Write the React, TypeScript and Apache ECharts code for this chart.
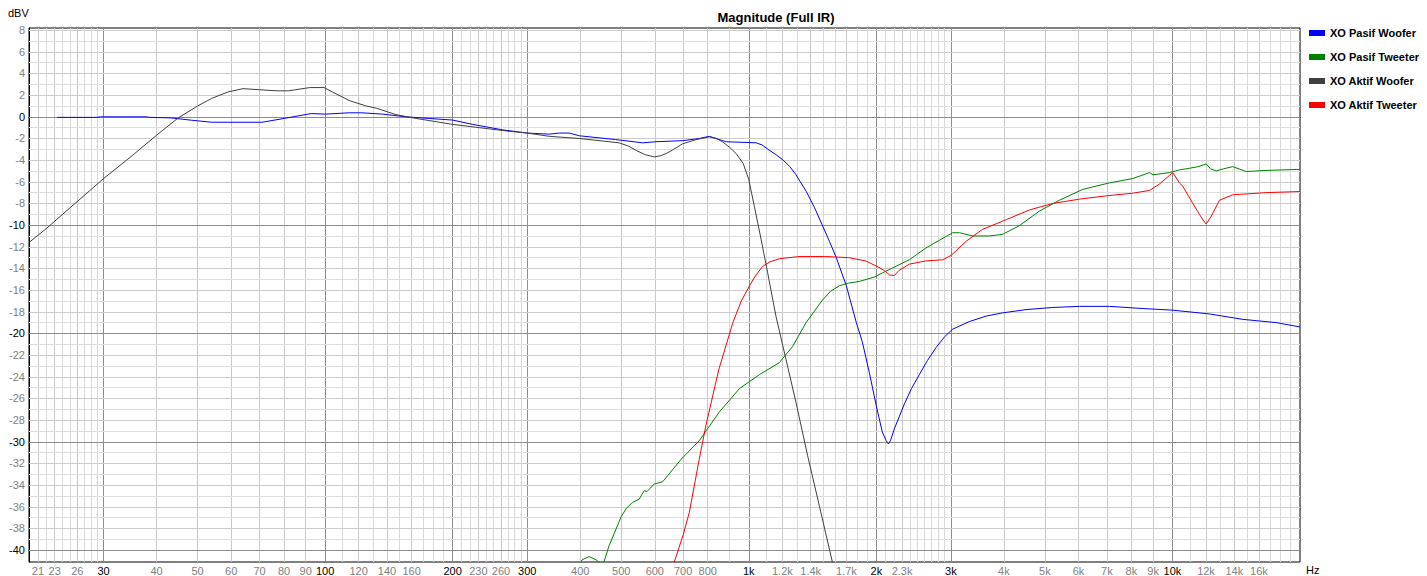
import React, { useEffect, useRef } from "react";
import * as echarts from "echarts";

// ---- tick labels / grid structure ----
const xTickLabels = [21, 23, 26, 30, 40, 50, 60, 70, 80, 90, 100, 120, 140, 160, 200, 230, 260, 300, 400, 500, 600, 700, 800, 1000, 1200, 1400, 1700, 2000, 2300, 3000, 4000, 5000, 6000, 7000, 8000, 9000, 10000, 12000, 14000, 16000];
const xMajor = [30, 100, 200, 300, 1000, 2000, 3000, 10000];
const yTickLabels = [8, 6, 4, 2, 0, -2, -4, -6, -8, -10, -12, -14, -16, -18, -20, -22, -24, -26, -28, -30, -32, -34, -36, -38, -40];
const yMajor = [0, -10, -20, -30, -40];

const seriesNames = ["XO Pasif Woofer", "XO Pasif Tweeter", "XO Aktif Woofer", "XO Aktif Tweeter"];
const seriesColors = ["#0000ff", "#008000", "#404040", "#ff0000"];

// ---- data: [frequency Hz, dBV] ----
const pasifWoofer = [
  [23.3, -0.05], [28.8, -0.05], [29.5, 0], [37.8, 0], [38.5, -0.05], [43.3, -0.1], [48, -0.3], [54, -0.5], [71, -0.5], [80, -0.15], [92.7, 0.3], [100, 0.25], [114, 0.37], [122, 0.37], [136.6, 0.25], [155, 0], [176, -0.15], [200, -0.3], [223, -0.7], [262, -1.2], [300, -1.5], [338, -1.6], [357, -1.5], [377, -1.5], [398, -1.75], [485, -2.1], [562, -2.4], [604, -2.3], [699, -2.2], [764, -2.0], [807, -1.8], [883, -2.3], [1041, -2.4], [1075, -2.6], [1110, -3.0], [1160, -3.5], [1205, -4.0], [1250, -4.6], [1290, -5.3], [1367, -6.9], [1430, -8.4], [1491, -10.0], [1550, -11.5], [1609, -13.0], [1699, -15.6], [1794, -19.0], [1854, -20.8], [1925, -23.6], [2000, -26.7], [2066, -29.1], [2110, -29.9], [2135, -30.2], [2160, -29.9], [2206, -28.8], [2330, -26.5], [2420, -25.1], [2527, -23.8], [2640, -22.5], [2767, -21.3], [2900, -20.3], [3029, -19.6], [3317, -18.9], [3631, -18.4], [3972, -18.1], [4512, -17.8], [5217, -17.6], [6033, -17.5], [7099, -17.5], [8511, -17.7], [10016, -17.85], [12230, -18.2], [14660, -18.7], [17576, -19.0], [20000, -19.4],
];
const pasifTweeter = [
  [395, -41.6], [404, -40.9], [420, -40.6], [436, -40.9], [448, -41.3], [455, -41.1], [468, -39.6], [500, -36.9], [513, -36.2], [531, -35.6], [551, -35.3], [567, -34.5], [575, -34.6], [598, -33.9], [626, -33.7], [660, -32.6], [693, -31.6], [764, -29.9], [850, -27.3], [950, -25.1], [1060, -23.8], [1180, -22.7], [1269, -21.2], [1365, -19.0], [1494, -16.9], [1560, -16.1], [1636, -15.6], [1720, -15.35], [1824, -15.2], [1976, -14.8], [2070, -14.4], [2186, -13.95], [2393, -13.2], [2620, -12.1], [2817, -11.4], [3029, -10.7], [3141, -10.7], [3377, -11.0], [3699, -11.0], [3972, -10.85], [4352, -10.05], [4853, -8.7], [5410, -7.7], [6142, -6.7], [7099, -6.1], [8058, -5.7], [8825, -5.15], [9000, -5.35], [9844, -5.15], [10387, -4.9], [10969, -4.75], [11500, -4.6], [12010, -4.35], [12300, -4.8], [12680, -5.0], [13200, -4.8], [13880, -4.6], [14930, -5.05], [16630, -4.95], [20000, -4.85],
];
const aktifWoofer = [
  [20, -11.6], [22, -10.3], [25, -8.4], [30, -5.7], [35, -3.6], [40, -1.7], [45, -0.1], [50, 1.0], [54, 1.7], [59, 2.3], [64, 2.6], [70, 2.5], [77, 2.4], [82, 2.4], [92, 2.7], [99.5, 2.7], [104, 2.3], [114, 1.5], [125, 1.0], [132, 0.8], [147, 0.2], [164, -0.15], [200, -0.7], [231, -1.0], [267, -1.3], [300, -1.5], [338, -1.8], [398, -2.0], [494, -2.4], [520, -2.7], [542, -3.1], [570, -3.5], [598, -3.7], [618, -3.6], [638, -3.4], [665, -3.0], [697, -2.5], [751, -2.1], [807, -1.85], [840, -2.0], [866, -2.3], [900, -2.8], [934, -3.4], [970, -4.3], [1000, -5.8], [1031, -8.3], [1069, -11.3], [1108, -14.4], [1159, -18.4], [1224, -22.4], [1293, -26.4], [1377, -31.3], [1467, -35.9], [1575, -41.1], [1620, -43],
];
const aktifTweeter = [
  [660, -41.8], [667, -41.1], [700, -38.6], [724, -36.5], [764, -31.6], [792, -28.5], [850, -23.3], [917, -19.0], [960, -17.0], [1004, -15.6], [1040, -14.6], [1079, -13.8], [1120, -13.4], [1180, -13.1], [1314, -12.9], [1518, -12.9], [1720, -13.0], [1886, -13.3], [2029, -13.9], [2089, -14.2], [2150, -14.6], [2206, -14.65], [2260, -14.2], [2393, -13.6], [2620, -13.3], [2869, -13.2], [3002, -12.8], [3257, -11.5], [3558, -10.4], [4049, -9.5], [4594, -8.6], [5217, -8.0], [6033, -7.6], [6971, -7.3], [8058, -7.05], [8825, -6.8], [9318, -6.2], [9844, -5.4], [10016, -5.15], [10387, -6.1], [10578, -6.4], [11170, -8.0], [11793, -9.5], [12010, -9.9], [12340, -9.2], [12910, -7.7], [13880, -7.2], [16630, -7.0], [20000, -6.9],
];

const FONT = '"Liberation Sans", Arial, sans-serif';

function buildGridLines() {
  const xs: number[] = [];
  for (let f = 21; f < 30; f++) xs.push(f);
  for (let f = 30; f <= 300; f += 10) xs.push(f);
  for (let f = 400; f <= 3000; f += 100) xs.push(f);
  for (let f = 4000; f <= 19000; f += 1000) xs.push(f);
  const items: any[] = [];
  xs.forEach((f) => {
    const col = xMajor.includes(f) ? "#8c8c8c" : xTickLabels.includes(f) ? "#c8c8c8" : "#d8d8d8";
    items.push({ xAxis: f, lineStyle: { color: col, width: 1, type: "solid" } });
  });
  for (let d = -40; d <= 8; d++) {
    const col = d % 10 === 0 ? "#8c8c8c" : d % 2 === 0 ? "#cccccc" : "#dedede";
    items.push({ yAxis: d, lineStyle: { color: col, width: 1, type: "solid" } });
  }
  return items;
}

function fmtFreq(v: number) {
  const n = Math.round(v);
  const s = n >= 1000 ? n / 1000 + "k" : String(n);
  return xMajor.includes(n) ? `{b|${s}}` : `{a|${s}}`;
}

export default function App() {
  const ref = useRef<HTMLDivElement>(null);
  useEffect(() => {
    if (!ref.current) return;
    const chart = echarts.init(ref.current, undefined, { renderer: "svg" });
    const data = [pasifWoofer, pasifTweeter, aktifWoofer, aktifTweeter];
    const option: any = {
      animation: false,
      backgroundColor: "#ffffff",
      grid: { left: 29, right: 127, top: 28, bottom: 14, show: true, borderColor: "#000", borderWidth: 1, backgroundColor: "transparent" },
      legend: {
        orient: "vertical",
        left: 1304,
        top: 21,
        icon: "rect",
        itemWidth: 16,
        itemHeight: 6,
        itemGap: 10,
        data: seriesNames,
        textStyle: { fontFamily: FONT, fontWeight: "bold", fontSize: 11, color: "#000", lineHeight: 14 },
      },
      graphic: [
        { type: "text", x: 776, y: 17, style: { text: "Magnitude (Full IR)", font: `bold 13px ${FONT}`, fill: "#000", textAlign: "center", textVerticalAlign: "middle" } },
        { type: "text", x: 8, y: 13, style: { text: "dBV", font: `11px ${FONT}`, fill: "#000", textAlign: "left", textVerticalAlign: "middle" } },
        { type: "text", x: 1306, y: 570, style: { text: "Hz", font: `11px ${FONT}`, fill: "#000", textAlign: "left", textVerticalAlign: "middle" } },
      ],
      xAxis: {
        type: "log",
        logBase: 10,
        min: 20,
        max: 20000,
        axisLine: { show: true, lineStyle: { color: "#000", width: 1 } },
        axisTick: { show: false },
        splitLine: { show: false },
        minorSplitLine: { show: false },
        axisLabel: {
          customValues: xTickLabels,
          margin: 3,
          fontFamily: FONT,
          fontSize: 11,
          formatter: fmtFreq,
          rich: {
            a: { color: "#808080", fontFamily: FONT, fontSize: 11 },
            b: { color: "#000", fontFamily: FONT, fontSize: 11 },
          },
        },
      },
      yAxis: {
        type: "value",
        min: -41.1,
        max: 8.2,
        axisLine: { show: true, lineStyle: { color: "#000", width: 1 } },
        axisTick: { show: false },
        splitLine: { show: false },
        axisLabel: {
          customValues: yTickLabels,
          margin: 4,
          fontFamily: FONT,
          fontSize: 11,
          formatter: (v: number) => {
            const n = Math.round(v);
            return yMajor.includes(n) ? `{b|${n}}` : `{a|${n}}`;
          },
          rich: {
            a: { color: "#808080", fontFamily: FONT, fontSize: 11 },
            b: { color: "#000", fontFamily: FONT, fontSize: 11 },
          },
        },
      },
      series: [
        {
          name: "__grid",
          type: "line",
          data: [[1000, 0]],
          showSymbol: false,
          symbol: "none",
          lineStyle: { width: 0, opacity: 0 },
          silent: true,
          z: 1,
          markLine: {
            silent: true,
            symbol: ["none", "none"],
            label: { show: false },
            z: 1,
            animation: false,
            data: buildGridLines(),
          },
        },
        ...seriesNames.map((name, i) => ({
          name,
          type: "line",
          data: data[i],
          showSymbol: false,
          symbol: "none",
          smooth: false,
          clip: true,
          z: 3,
          lineStyle: { color: seriesColors[i], width: 1 },
          itemStyle: { color: seriesColors[i] },
        })),
      ],
    };
    chart.setOption(option);
    return () => chart.dispose();
  }, []);
  return <div ref={ref} style={{ position: "absolute", left: 0, top: 0, width: 1427, height: 576 }} />;
}
